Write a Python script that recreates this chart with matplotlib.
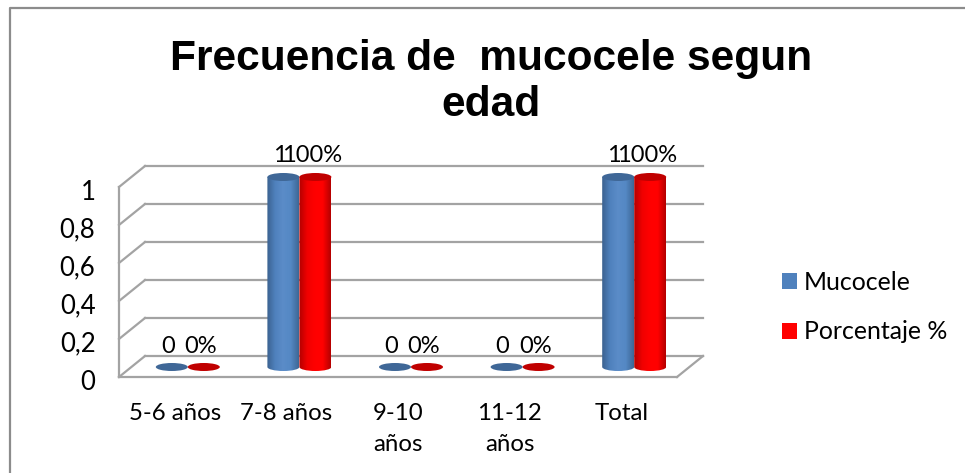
import matplotlib
matplotlib.use('Agg')
import matplotlib.pyplot as plt
import numpy as np
from matplotlib.colors import LinearSegmentedColormap
from matplotlib.lines import Line2D
from matplotlib.patches import Ellipse, Patch
from matplotlib.path import Path
from matplotlib.patches import PathPatch
from matplotlib.transforms import ScaledTranslation

categorias = ['5-6 años', '7-8 años', '9-10\naños', '11-12\naños', 'Total']
mucocele = [0, 1, 0, 0, 1]
porcentaje = [0, 100, 0, 0, 100]
y_ticks = [0, 0.2, 0.4, 0.6, 0.8, 1]
y_labels = ['0', '0,2', '0,4', '0,6', '0,8', '1']

W, H = 965, 473
FONT = 'Lato'

fig = plt.figure(figsize=(W / 100, H / 100), dpi=100)
ax = fig.add_axes([119 / W, (H - 377) / H, 558 / W, 190 / H])
ax.set_facecolor('none')

px_x = 5 / 558
px_y = 1 / 190
GRID = '#a3a3a3'
bar_w = 32 * px_x
ell_h = 8 * px_y
dx = 13 * px_x   # the bars stand halfway into the 3d floor
dy = 10 * px_y
back_x = 26 * px_x
back_y = 21 * px_y


def cilindro(x, valor, colores, tapa, base):
    left = x - bar_w / 2
    y0 = dy
    y1 = dy + valor
    if valor == 0:
        ax.add_patch(Ellipse((x, y0), bar_w, ell_h, fc=base, ec='none', zorder=5, clip_on=False))
        return
    k = 0.5523
    a = bar_w / 2
    b = ell_h / 2
    verts = [(left, y1), (left, y0),
             (left, y0 - k * b), (x - k * a, y0 - b), (x, y0 - b),
             (x + k * a, y0 - b), (x + a, y0 - k * b), (x + a, y0),
             (x + a, y1), (left, y1)]
    codes = [Path.MOVETO, Path.LINETO, Path.CURVE4, Path.CURVE4, Path.CURVE4,
             Path.CURVE4, Path.CURVE4, Path.CURVE4, Path.LINETO, Path.CLOSEPOLY]
    clip = PathPatch(Path(verts, codes), fc='none', ec='none', transform=ax.transData, clip_on=False)
    ax.add_patch(clip)
    cmap = LinearSegmentedColormap.from_list('c', colores)
    grad = np.linspace(0, 1, 64).reshape(1, -1)
    im = ax.imshow(grad, cmap=cmap, extent=(left, x + a, y0 - b, y1), aspect='auto', zorder=5)
    im.set_clip_path(clip)
    im.set_clip_box(fig.bbox)
    ax.add_patch(Ellipse((x, y1), bar_w, ell_h, fc=tapa, ec='none', zorder=6, clip_on=False))


# walls and floor of the 3d box
for t in y_ticks:
    ax.add_line(Line2D([back_x, 5 + back_x], [t + back_y] * 2, color=GRID, lw=1.6, clip_on=False, zorder=1))
    ax.add_line(Line2D([0, back_x], [t, t + back_y], color=GRID, lw=1.6, clip_on=False, zorder=1))
ax.add_line(Line2D([0, 0], [0, 1], color=GRID, lw=1.6, clip_on=False, zorder=1))
ax.add_line(Line2D([0, 5], [0, 0], color=GRID, lw=1.6, clip_on=False, zorder=1))
ax.add_line(Line2D([5, 5 + back_x], [0, back_y], color=GRID, lw=1.6, clip_on=False, zorder=1))

azul = ['#3b6290', '#4f81bd', '#5b8cc8', '#5488c4', '#3e6795']
rojo = ['#b30000', '#f00000', '#ff0000', '#ff0000', '#b50000']

xs = np.arange(len(categorias)) + 0.5
for x, m, p in zip(xs, mucocele, porcentaje):
    cilindro(x + dx - bar_w / 2, m, azul, '#3f6797', '#3f6797')
    cilindro(x + dx + bar_w / 2, p / 100, rojo, '#c00000', '#c00000')
    ytxt = dy + m + 22 * px_y
    if m == 0:
        ytxt = dy + 21 * px_y
    ax.text(x + dx - bar_w / 2 - 4 * px_x, ytxt, str(m), ha='center', va='center', fontsize=17, family=FONT, zorder=7, clip_on=False)
    ax.text(x + dx + bar_w / 2 - 3 * px_x, ytxt, f'{p}%', ha='center', va='center', fontsize=17, family=FONT, zorder=7, clip_on=False)

ax.set_xlim(0, 5)
ax.set_ylim(0, 1)
ax.set_xticks(xs)
ax.set_xticklabels(categorias, fontsize=17.3, family=FONT, linespacing=1.55)
ax.set_yticks(y_ticks)
ax.set_yticklabels(y_labels, fontsize=18.5, family=FONT)
ax.tick_params(axis='x', length=0, pad=19)
ax.tick_params(axis='y', length=0, pad=17)
for lab in ax.get_yticklabels():
    lab.set_transform(lab.get_transform() + ScaledTranslation(0, -2 / 72, fig.dpi_scale_trans))
for s in ax.spines.values():
    s.set_visible(False)

fig.text(491 / W, (H - 82) / H, 'Frecuencia de  mucocele segun\nedad', ha='center', va='center',
         fontsize=30.6, fontweight='bold', family='Liberation Sans', linespacing=1.2)

handles = [Patch(fc='#4f81bd', label='Mucocele'), Patch(fc='#ff0000', label='Porcentaje %')]
fig.legend(handles=handles, loc='center left', bbox_to_anchor=(782 / W, (H - 307) / H), frameon=False,
           prop={'family': FONT, 'size': 17.9}, handlelength=0.6, handleheight=0.6, handletextpad=0.28,
           labelspacing=1.08, borderpad=0, borderaxespad=0)

# frame of the chart area, only top and left show
fig.add_artist(Line2D([10 / W, 10 / W, 1], [0, (H - 8) / H, (H - 8) / H], color='#8c8c8c', lw=1.6))

fig.savefig('out.png', dpi=100)
